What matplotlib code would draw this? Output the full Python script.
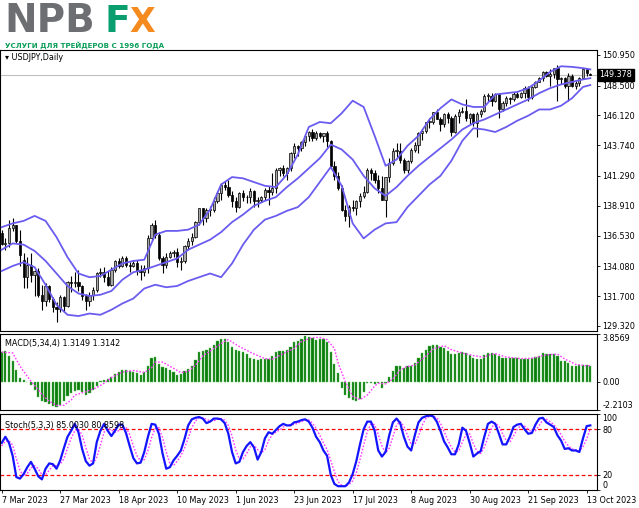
import matplotlib
matplotlib.use('Agg')
import matplotlib.pyplot as plt
from matplotlib.transforms import blended_transform_factory

# --- data (bar 0 = first date tick) ---
opens = [
    136.75, 135.85, 135.95, 137.15, 137.35, 136.10, 134.60, 133.20, 134.20, 133.40,
    133.70, 131.80, 131.30, 132.50, 131.50, 130.80, 130.70, 131.60, 130.90, 132.80,
    132.70, 132.80, 132.50, 131.70, 131.30, 131.80, 132.20, 133.50, 133.60, 133.20,
    132.60, 133.80, 134.50, 134.10, 134.70, 134.20, 134.10, 134.30, 133.70, 133.60,
    133.90, 136.30, 137.40, 136.60, 134.70, 134.20, 134.80, 135.10, 135.20, 134.40,
    134.50, 135.70, 136.10, 136.40, 137.60, 138.70, 137.90, 138.60, 138.60, 139.30,
    139.90, 140.60, 140.40, 139.80, 139.30, 138.80, 139.90, 139.60, 139.60, 140.10,
    139.30, 139.40, 139.60, 140.20, 140.00, 140.30, 141.80, 141.90, 141.50, 141.90,
    143.10, 143.70, 143.50, 144.00, 144.50, 144.80, 144.30, 144.70, 144.50, 144.70,
    144.10, 142.10, 141.30, 140.30, 138.60, 138.10, 138.80, 138.70, 139.30, 139.70,
    140.00, 141.80, 141.50, 141.00, 140.30, 139.40, 141.20, 142.30, 143.30, 143.30,
    142.60, 141.80, 142.50, 143.40, 143.80, 144.70, 144.90, 145.60, 145.60, 146.40,
    145.80, 145.40, 146.20, 145.90, 144.80, 146.10, 146.40, 146.50, 145.90, 146.20,
    145.50, 146.20, 146.50, 147.70, 147.70, 147.30, 147.80, 146.60, 147.10, 147.50,
    147.40, 147.80, 147.60, 147.90, 148.30, 147.60, 148.40, 148.80, 149.10, 149.60,
    149.30, 149.40, 149.90, 149.00, 149.10, 148.50, 149.30, 148.50, 148.70, 149.10,
    149.80, 149.45]
highs = [
    136.95, 136.30, 137.75, 137.90, 137.40, 136.99, 135.10, 134.80, 135.10, 133.80,
    133.90, 132.60, 132.70, 132.60, 131.60, 131.20, 131.80, 131.70, 132.90, 133.30,
    133.60, 133.80, 132.60, 131.90, 132.00, 132.40, 133.60, 133.90, 134.00, 133.70,
    134.00, 134.60, 134.70, 134.90, 134.90, 134.40, 134.60, 134.60, 134.20, 134.20,
    136.60, 137.50, 137.80, 136.80, 134.90, 135.10, 135.30, 135.40, 135.50, 134.80,
    135.80, 136.30, 136.70, 137.70, 138.75, 138.75, 138.70, 138.90, 139.60, 140.10,
    140.70, 140.90, 140.95, 140.10, 139.60, 140.00, 140.20, 139.80, 140.30, 140.20,
    139.60, 139.70, 140.30, 140.50, 141.50, 141.90, 142.00, 142.20, 142.00, 143.20,
    143.90, 143.80, 144.10, 144.60, 144.90, 145.07, 144.90, 144.80, 144.70, 144.90,
    144.20, 142.50, 141.60, 140.60, 139.00, 139.00, 139.40, 139.40, 139.90, 140.50,
    141.90, 141.90, 141.80, 141.40, 141.30, 141.20, 142.70, 143.50, 143.90, 143.90,
    142.70, 142.60, 143.50, 144.00, 144.80, 145.00, 145.60, 145.90, 146.40, 146.60,
    146.00, 146.30, 146.40, 146.10, 146.20, 146.60, 146.80, 147.40, 146.30, 146.30,
    146.40, 146.60, 147.80, 147.90, 147.90, 147.90, 147.90, 147.30, 147.70, 147.60,
    148.00, 148.00, 148.00, 148.50, 148.50, 148.50, 148.90, 149.20, 149.70, 149.70,
    149.80, 149.90, 150.16, 149.20, 149.20, 149.50, 149.40, 148.90, 149.20, 149.80,
    149.90, 149.50]
lows = [
    135.80, 135.40, 135.65, 136.90, 135.90, 134.10, 132.30, 132.30, 132.80, 131.70,
    131.60, 130.60, 130.90, 131.20, 130.40, 129.65, 130.40, 130.40, 130.80, 132.00,
    132.40, 132.10, 131.40, 130.60, 130.90, 131.40, 132.00, 133.20, 132.80, 132.50,
    132.50, 133.60, 133.90, 134.00, 134.00, 133.60, 134.00, 133.40, 133.00, 133.30,
    133.50, 136.20, 136.30, 134.60, 133.50, 133.90, 134.70, 134.80, 134.00, 133.80,
    134.30, 135.40, 135.80, 136.30, 137.40, 137.40, 137.60, 138.10, 138.40, 139.10,
    139.40, 140.20, 139.60, 138.80, 138.40, 138.70, 139.30, 139.10, 139.10, 138.80,
    138.80, 139.20, 139.40, 139.00, 139.80, 139.90, 141.30, 141.30, 141.00, 141.70,
    142.70, 142.90, 143.30, 143.70, 144.10, 144.10, 144.20, 144.30, 144.00, 143.60,
    142.00, 141.00, 140.20, 138.50, 137.70, 137.25, 138.50, 138.20, 138.80, 139.50,
    139.90, 141.00, 140.70, 139.90, 139.40, 138.05, 140.80, 142.20, 142.80, 142.30,
    141.50, 141.50, 142.30, 143.20, 143.10, 144.20, 144.70, 145.10, 145.40, 145.80,
    144.90, 145.20, 145.50, 144.50, 144.70, 145.50, 146.30, 145.70, 145.40, 145.30,
    144.40, 146.00, 146.40, 147.30, 146.90, 147.20, 145.90, 146.50, 146.90, 147.00,
    147.30, 147.50, 147.50, 147.50, 147.30, 147.40, 148.30, 148.80, 148.90, 149.20,
    148.50, 149.10, 147.30, 148.60, 148.30, 147.30, 148.40, 148.20, 148.50, 149.00,
    149.30, 149.33]
closes = [
    135.85, 135.95, 137.15, 137.35, 136.10, 135.00, 133.20, 134.20, 133.40, 133.70,
    131.80, 131.30, 132.50, 131.50, 130.80, 130.70, 131.60, 130.90, 132.80, 132.70,
    132.80, 132.50, 131.70, 131.30, 131.80, 132.20, 133.50, 133.60, 133.20, 132.60,
    133.80, 134.50, 134.10, 134.70, 134.20, 134.10, 134.30, 133.70, 133.60, 133.90,
    136.30, 137.40, 136.60, 134.70, 134.20, 134.80, 135.10, 135.20, 134.40, 134.50,
    135.70, 136.10, 136.40, 137.60, 138.70, 137.90, 138.60, 138.60, 139.30, 139.90,
    140.60, 140.40, 139.80, 139.30, 138.80, 139.90, 139.60, 139.60, 140.10, 139.30,
    139.40, 139.60, 140.20, 140.00, 140.30, 141.80, 141.90, 141.50, 141.90, 143.10,
    143.70, 143.50, 144.00, 144.50, 144.80, 144.30, 144.70, 144.50, 144.70, 144.10,
    142.10, 141.30, 140.30, 138.60, 138.10, 138.80, 138.70, 139.30, 139.70, 140.00,
    141.80, 141.50, 141.00, 140.30, 139.40, 141.20, 142.30, 143.30, 143.30, 142.60,
    141.80, 142.50, 143.40, 143.80, 144.70, 144.90, 145.60, 145.60, 146.40, 145.80,
    145.40, 146.20, 145.90, 144.80, 146.10, 146.40, 146.50, 145.90, 146.20, 145.50,
    146.20, 146.50, 147.70, 147.70, 147.30, 147.80, 146.60, 147.10, 147.50, 147.40,
    147.80, 147.60, 147.90, 148.30, 147.60, 148.40, 148.80, 149.10, 149.60, 149.30,
    149.40, 149.90, 149.00, 149.10, 148.50, 149.30, 148.50, 148.70, 149.10, 149.80,
    149.55, 149.378]

# Bollinger bands, read at sample bars
bb_bars = [0, 3, 6, 9, 12, 15, 18, 21, 24, 27, 30, 33, 36, 39, 42, 45, 48, 51, 54, 57,
           60, 63, 66, 69, 72, 75, 78, 81, 84, 87, 90, 93, 96, 99, 102, 105, 108, 111,
           114, 117, 120, 123, 126, 129, 132, 135, 138, 141, 144, 147, 150, 153, 156,
           159, 161]
bb_upper = [137.2, 137.5, 137.7, 138.1, 137.7, 136.4, 134.8, 133.5, 133.2, 133.3,
            133.8, 134.3, 134.5, 134.6, 136.6, 136.9, 136.9, 137.0, 137.4, 138.6,
            140.6, 141.2, 141.1, 140.8, 140.5, 140.4, 141.4, 143.0, 145.2, 145.6,
            145.5, 146.3, 147.3, 146.8, 144.5, 142.1, 142.6, 143.7, 144.5, 145.8,
            146.7, 147.4, 147.0, 146.8, 146.8, 147.8, 147.9, 148.0, 148.3, 148.9,
            149.6, 150.05, 150.0, 149.9, 149.8]
bb_middle = [135.4, 135.9, 135.8, 135.3, 134.5, 133.5, 132.5, 131.9, 131.7, 131.8,
             132.1, 133.0, 133.6, 133.8, 134.1, 134.4, 134.7, 135.4, 135.8, 136.2,
             136.8, 137.6, 138.2, 138.9, 139.3, 139.6, 140.4, 141.1, 141.9, 142.7,
             143.8, 143.4, 142.6, 141.3, 140.3, 139.7, 140.4, 141.3, 142.1, 142.8,
             143.5, 144.2, 145.0, 145.5, 145.8, 146.2, 146.6, 147.0, 147.4, 147.9,
             148.3, 148.6, 148.8, 149.0, 149.1]
bb_lower = [133.7, 134.1, 134.4, 134.0, 132.6, 131.0, 130.2, 130.1, 130.3, 130.2,
            130.6, 131.1, 131.5, 132.3, 132.6, 132.4, 132.5, 132.9, 133.2, 133.5,
            133.2, 134.3, 135.8, 137.0, 137.8, 138.1, 138.5, 138.8, 139.6, 140.8,
            142.0, 140.5, 137.5, 136.3, 137.0, 137.5, 137.6, 138.8, 139.7, 140.6,
            141.3, 142.5, 144.1, 145.1, 145.0, 144.8, 145.2, 145.7, 146.1, 146.6,
            146.6, 146.9, 147.5, 148.4, 148.55]

macd_hist = [
    2.40, 2.53, 2.10, 1.67, 0.99, 0.32, 0.19, 0.03, -0.27, -0.62,
    -1.22, -1.51, -1.62, -1.73, -1.92, -2.02, -1.81, -1.51, -1.11, -0.89,
    -0.76, -0.68, -0.84, -1.03, -0.89, -0.68, -0.30, 0.05, 0.13, 0.24,
    0.40, 0.67, 0.81, 0.99, 0.94, 0.91, 0.81, 0.70, 0.54, 0.83,
    1.27, 1.94, 2.02, 1.48, 1.24, 1.11, 0.97, 0.81, 0.59, 0.67,
    0.86, 1.02, 1.32, 1.75, 2.40, 2.53, 2.61, 2.72, 2.96, 3.26,
    3.42, 3.48, 3.23, 2.83, 2.56, 2.53, 2.40, 2.24, 1.91, 1.81,
    1.75, 1.81, 1.81, 1.81, 2.07, 2.42, 2.48, 2.53, 2.61, 2.85,
    3.20, 3.31, 3.48, 3.69, 3.64, 3.53, 3.37, 3.45, 3.48, 3.20,
    2.40, 1.45, 0.70, -0.49, -1.03, -1.30, -1.45, -1.50, -1.35, -0.80,
    -0.10, -0.08, -0.20, -0.10, -0.50, -0.10, 0.40, 0.90, 1.30, 1.25,
    1.15, 1.27, 1.32, 1.54, 1.94, 2.34, 2.61, 2.88, 3.00, 2.95,
    2.85, 2.75, 2.50, 2.21, 2.21, 2.34, 2.40, 2.34, 2.15, 1.95,
    1.86, 1.86, 2.20, 2.34, 2.34, 2.25, 2.05, 1.94, 1.94, 1.94,
    1.94, 1.90, 1.86, 1.81, 1.86, 1.94, 2.00, 2.07, 2.30, 2.25,
    2.25, 2.21, 2.07, 1.67, 1.67, 1.54, 1.27, 1.27, 1.35, 1.40,
    1.40, 1.3149]
sig_bars = [0, 3, 5, 8, 10, 11, 13, 15, 17, 19, 20, 23, 26, 28, 30, 33, 36, 39, 41, 42,
            44, 47, 49, 51, 53, 55, 58, 61, 62, 65, 69, 72, 74, 77, 80, 82, 85, 87, 89,
            91, 92, 94, 96, 98, 100, 102, 103, 105, 107, 109, 111, 113, 116, 118, 121,
            123, 126, 129, 132, 133, 135, 138, 142, 145, 149, 152, 154, 157, 160, 161]
macd_signal = [2.40, 2.34, 1.27, 0.05, -0.62, -1.00, -1.55, -1.88, -1.88, -1.45, -1.05,
               -0.78, -0.45, -0.10, 0.35, 0.80, 0.92, 0.76, 1.14, 1.60, 1.60, 1.10, 0.75,
               0.85, 1.35, 2.10, 2.68, 3.28, 3.40, 2.85, 2.25, 1.88, 1.83, 2.28, 2.70,
               3.25, 3.57, 3.58, 3.40, 2.70, 1.55, 0.00, -1.15, -1.42, -1.05, -0.33,
               -0.10, -0.15, 0.25, 0.97, 1.25, 1.36, 2.08, 2.65, 2.92, 2.60, 2.32, 2.12,
               1.98, 2.15, 2.28, 2.00, 1.88, 1.90, 2.18, 2.24, 1.85, 1.42, 1.30, 1.3142]

stoch_main = [
    62, 70, 62, 45, 17, 15, 21, 30, 37, 28, 18, 14, 28, 35, 34, 28, 39, 55, 70, 78,
    87, 76, 54, 38, 32, 35, 63, 78, 87, 78, 71, 78, 86, 86, 75, 58, 42, 35, 36, 50,
    70, 87, 86, 74, 48, 28, 30, 39, 45, 52, 67, 85, 93, 95, 96, 94, 88, 90, 94, 94,
    93, 88, 74, 50, 35, 37, 50, 58, 63, 56, 40, 50, 68, 76, 74, 79, 84, 87, 85, 85,
    89, 90, 92, 93, 90, 82, 70, 63, 52, 45, 20, 8, 5, 5, 5, 10, 21, 38, 60, 80,
    90, 90, 78, 52, 44, 50, 72, 89, 94, 88, 70, 57, 52, 72, 89, 95, 97, 98, 97, 90,
    78, 64, 56, 47, 47, 60, 82, 78, 62, 44, 48, 51, 70, 87, 90, 87, 74, 60, 60, 70,
    83, 86, 87, 80, 74, 75, 86, 94, 95, 89, 86, 83, 72, 65, 54, 55, 52, 52, 50, 68,
    84, 85.003]
stoch_signal = [
    58, 64, 65, 59, 41, 26, 18, 22, 29, 32, 28, 20, 20, 26, 32, 32, 34, 41, 55, 68,
    78, 80, 72, 56, 41, 35, 43, 59, 76, 81, 79, 76, 78, 83, 82, 73, 58, 45, 38, 40,
    52, 69, 81, 82, 69, 50, 35, 32, 38, 45, 55, 68, 82, 91, 95, 95, 93, 91, 91, 93,
    94, 92, 85, 71, 53, 41, 41, 48, 57, 59, 53, 49, 53, 65, 73, 76, 79, 83, 85, 86,
    86, 88, 90, 92, 92, 88, 81, 72, 62, 53, 39, 24, 11, 6, 5, 7, 12, 23, 40, 59,
    77, 87, 86, 73, 58, 49, 55, 70, 85, 90, 84, 72, 60, 60, 71, 85, 94, 97, 97, 95,
    88, 77, 66, 56, 50, 51, 63, 73, 74, 61, 51, 48, 56, 69, 82, 88, 84, 74, 65, 63,
    71, 80, 85, 84, 80, 76, 78, 85, 92, 93, 90, 86, 80, 73, 64, 58, 54, 53, 51, 57,
    67, 80.8598]

price_ticks = [150.950, 148.500, 146.120, 143.740, 141.290, 138.910, 136.530, 134.080, 131.700, 129.320]
date_ticks = [0, 16, 32, 48, 64, 80, 96, 112, 128, 144, 160]
date_labels = ['7 Mar 2023', '27 Mar 2023', '18 Apr 2023', '10 May 2023', '1 Jun 2023',
               '23 Jun 2023', '17 Jul 2023', '8 Aug 2023', '30 Aug 2023', '21 Sep 2023',
               '13 Oct 2023']
last_price = 149.378

# --- figure layout in pixels ---
W, H = 639, 508
fig = plt.figure(figsize=(W / 100, H / 100), dpi=100)
plt.rcParams['font.family'] = ['DejaVu Sans']

def px_rect(x0, y0, x1, y1):
    return [x0 / W, 1 - y1 / H, (x1 - x0) / W, (y1 - y0) / H]

ax = fig.add_axes(px_rect(0, 49.5, 597, 331))
ax_m = fig.add_axes(px_rect(0, 334, 597, 409.5))
ax_s = fig.add_axes(px_rect(0, 414, 597, 490))

xlim = (-1.7 / 3.656, (597 - 1.7) / 3.656)
fs = 5.8
for a in (ax, ax_m, ax_s):
    a.set_xlim(*xlim)
    a.yaxis.tick_right()
    a.tick_params(axis='y', length=2.5, width=0.6, pad=1.5, labelsize=fs, colors='black')
    a.tick_params(axis='x', length=0)
    a.set_xticks([])
    for s in a.spines.values():
        s.set_color('black')
        s.set_linewidth(0.8)

# --- main price panel ---
idx = list(range(len(closes)))
ax.axhline(last_price, color='#c0c0c0', lw=0.8, zorder=0)
ax.vlines(idx, lows, highs, color='black', lw=0.8, zorder=2)
bottoms = [min(o, c) for o, c in zip(opens, closes)]
heights = [max(abs(c - o), 0.04) for o, c in zip(opens, closes)]
colors = ['#a8a8a8' if c >= o else 'black' for o, c in zip(opens, closes)]
ax.bar(idx, heights, bottom=bottoms, width=0.62, color=colors, edgecolor='black',
       linewidth=0.5, zorder=3)
for band in (bb_upper, bb_middle, bb_lower):
    ax.plot(bb_bars, band, color='#6b5cf0', lw=1.3, zorder=4)
ax.set_ylim(150.95 - 281.5 / 12.52 + 5.5 / 12.52, 150.95 + 5.5 / 12.52)
ax.set_yticks(price_ticks)
ax.set_yticklabels([f'{v:.3f}' for v in price_ticks])
ax.text(0.008, 0.972, '\u25be USDJPY,Daily', transform=ax.transAxes, fontsize=fs,
        va='center', ha='left')
tr = blended_transform_factory(ax.transAxes, ax.transData)
ax.text(1.004, last_price, f'{last_price:.3f}', transform=tr, color='white', fontsize=fs,
        va='center', ha='left', zorder=10,
        bbox=dict(boxstyle='square,pad=0.2', fc='black', ec='black'))

# --- MACD panel ---
ax_m.bar(idx, macd_hist, width=0.6, color='#0b7d0b', edgecolor='#5fbf5f', linewidth=0.3)
ax_m.plot(sig_bars, macd_signal, color='#ff3cff', lw=1.0, ls=(0, (1.2, 1.2)))
ax_m.set_ylim(-2.2103, 3.8569)
ax_m.set_yticks([3.8569, 0.0, -2.2103])
ax_m.set_yticklabels(['3.8569', '0.00', '-2.2103'])
labs = ax_m.get_yticklabels()
labs[0].set_va('top')
labs[2].set_va('bottom')
ax_m.text(0.008, 0.88, 'MACD(5,34,4) 1.3149 1.3142', transform=ax_m.transAxes,
          fontsize=fs, va='center', ha='left')

# --- Stochastic panel ---
ax_s.axhline(80, color='red', lw=0.9, ls=(0, (3, 2)))
ax_s.axhline(20, color='red', lw=0.9, ls=(0, (3, 2)))
ax_s.plot(idx, stoch_signal, color='#ff3cff', lw=1.0, ls=(0, (1.2, 1.2)))
ax_s.plot(idx, stoch_main, color='#1414ff', lw=1.6)
ax_s.set_ylim(0, 100)
ax_s.set_yticks([100, 80, 20, 0])
ax_s.set_yticklabels(['100', '80', '20', '0'])
labs = ax_s.get_yticklabels()
labs[0].set_va('top')
labs[3].set_va('bottom')
ax_s.text(0.008, 0.85, 'Stoch(5,3,3) 85.0030 80.8598', transform=ax_s.transAxes,
          fontsize=fs, va='center', ha='left')
ax_s.set_xticks(date_ticks)
ax_s.set_xticklabels(date_labels, ha='left')
ax_s.tick_params(axis='x', length=2.5, width=0.6, pad=2, labelsize=fs)

# --- logo ---
fig.text(4 / W, 1 - 32.5 / H, 'NPB', fontsize=28, fontweight='bold', color='#6d6e71',
         ha='left', va='baseline')
fig.text(104 / W, 1 - 32.5 / H, 'F', fontsize=27, fontweight='bold', color='#0a9e6e',
         ha='left', va='baseline')
fig.text(129 / W, 1 - 32.5 / H, 'X', fontsize=24, fontweight='bold', color='#f58a1f',
         ha='left', va='baseline')
fig.text(5 / W, 1 - 47.5 / H, 'УСЛУГИ ДЛЯ ТРЕЙДЕРОВ С 1996 ГОДА', fontsize=5.1,
         fontweight='bold', color='#0a9e5a', ha='left', va='baseline')

fig.savefig('out.png', dpi=100)
